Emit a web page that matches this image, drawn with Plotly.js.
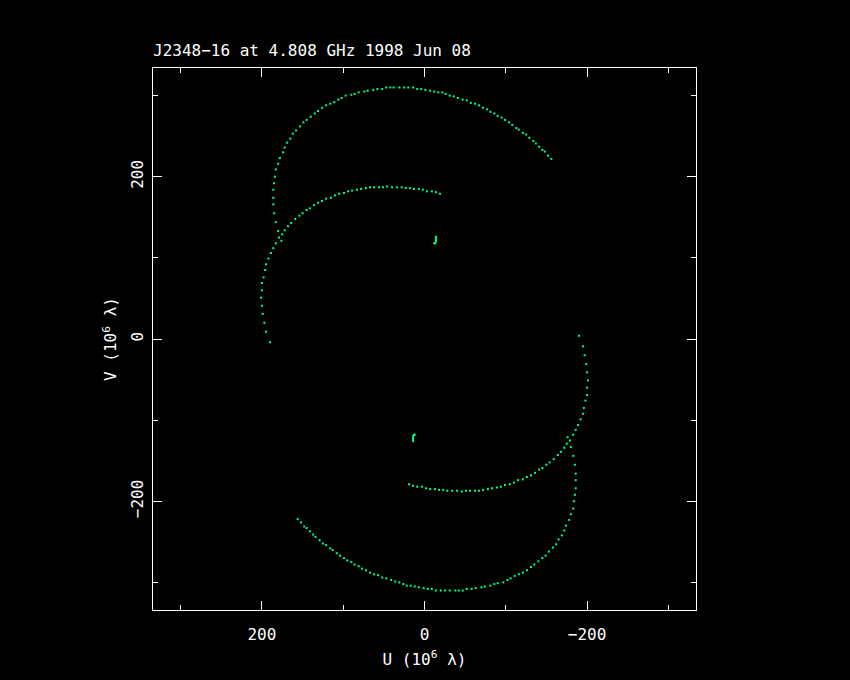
<!DOCTYPE html>
<html>
<head>
<meta charset="utf-8">
<script src="https://cdn.plot.ly/plotly-3.0.1.min.js"></script>
<style>
html,body{margin:0;padding:0;background:#000;}
#chart{width:850px;height:680px;}
</style>
</head>
<body>
<div id="chart"></div>
<script>
// Outer arc, upper half (U, V in 10^6 lambda)
const outerUpperU = [176,179,180,183,185,186,186,186,185,184,183,180,178,174,172,169,165,162,158,153,149,145,140,135,131,126,121,116,111,106,102,97,90,86,81,74,70,63,58,52,47,42,38,31,25,20,14,9,4,-1,-7,-12,-17,-22,-26,-31,-36,-41,-47,-52,-57,-62,-67,-72,-77,-81,-86,-90,-95,-99,-104,-108,-113,-116,-121,-125,-129,-134,-137,-141,-145,-148,-152,-156];
const outerUpperV = [121,125,133,144,155,166,174,184,192,200,209,216,223,230,236,242,247,253,257,262,267,270,274,278,281,285,288,290,292,295,297,300,301,302,304,305,306,307,308,308,310,310,310,310,310,310,310,308,308,307,306,305,304,304,302,300,299,297,295,294,291,290,288,285,283,280,278,275,273,270,267,264,260,258,254,252,248,244,241,237,233,231,226,222];

// Inner arc, upper half
const innerUpperU = [190,195,197,199,200,201,200,200,198,196,195,192,189,186,183,175,172,168,164,159,154,150,145,141,136,131,126,121,115,110,105,99,94,89,83,78,72,67,62,56,51,46,40,34,28,23,18,13,7,2,-3,-9,-14,-19];
const innerUpperV = [-4,9,20,31,41,51,60,69,76,85,92,99,106,112,118,129,134,139,143,148,152,155,159,161,165,168,170,173,174,177,179,180,182,183,184,185,186,187,187,187,187,188,187,187,187,186,186,185,185,184,182,182,181,179];

// Outer arc, lower half
const outerLowerU = [-176,-179,-180,-183,-185,-186,-186,-186,-185,-184,-183,-180,-178,-174,-172,-169,-165,-162,-158,-153,-149,-145,-140,-135,-131,-126,-121,-116,-111,-106,-102,-97,-90,-86,-81,-74,-70,-63,-58,-52,-47,-42,-38,-31,-25,-20,-14,-9,-4,1,7,12,17,22,26,31,36,41,47,52,57,62,67,72,77,81,86,90,95,99,104,108,113,116,121,125,129,134,137,141,145,148,152,156];
const outerLowerV = [-121,-125,-133,-144,-155,-166,-174,-184,-192,-200,-209,-216,-223,-230,-236,-242,-247,-253,-257,-262,-267,-270,-274,-278,-281,-285,-288,-290,-292,-295,-297,-300,-301,-302,-304,-305,-306,-307,-308,-308,-310,-310,-310,-310,-310,-310,-310,-308,-308,-307,-306,-305,-304,-304,-302,-300,-299,-297,-295,-294,-291,-290,-288,-285,-283,-280,-278,-275,-273,-270,-267,-264,-260,-258,-254,-252,-248,-244,-241,-237,-233,-231,-226,-222];

// Inner arc, lower half
const innerLowerU = [-190,-195,-197,-199,-200,-201,-200,-200,-198,-196,-195,-192,-189,-186,-183,-175,-172,-168,-164,-159,-154,-150,-145,-141,-136,-131,-126,-121,-115,-110,-105,-99,-94,-89,-83,-78,-72,-67,-62,-56,-51,-46,-40,-34,-28,-23,-18,-13,-7,-2,3,9,14,19];
const innerLowerV = [4,-9,-20,-31,-41,-51,-60,-69,-76,-85,-92,-99,-106,-112,-118,-129,-134,-139,-143,-148,-152,-155,-159,-161,-165,-168,-170,-173,-174,-177,-179,-180,-182,-183,-184,-185,-186,-187,-187,-187,-187,-188,-187,-187,-187,-186,-186,-185,-185,-184,-182,-182,-181,-179];

// Short-baseline clusters
const clusterUpperU = [-14,-14,-14,-14,-13,-12];
const clusterUpperV = [126,124,122,120,118,118];
const clusterLowerU = [14,14,14,14,13,12];
const clusterLowerV = [-126,-124,-122,-120,-118,-118];

const chartTitle = 'J2348\u221216 at 4.808 GHz 1998 Jun 08';
const xTitle = 'U (10<sup>6</sup> \u03bb)';
const yTitle = 'V (10<sup>6</sup> \u03bb)';

const FONT = 'DejaVu Sans Mono, DejaVu Sans, monospace';
const GREEN = '#00ff80';

function pts(u, v) {
  return {
    x: u, y: v, type: 'scatter', mode: 'markers',
    marker: {symbol: 'square', size: 2, color: GREEN, line: {width: 0}},
    hoverinfo: 'skip', showlegend: false
  };
}

const data = [
  pts(outerUpperU, outerUpperV),
  pts(innerUpperU, innerUpperV),
  pts(outerLowerU, outerLowerV),
  pts(innerLowerU, innerLowerV),
  pts(clusterUpperU, clusterUpperV),
  pts(clusterLowerU, clusterLowerV)
];

const axisCommon = {
  autorange: false,
  showgrid: false,
  zeroline: false,
  showline: true,
  linecolor: '#ffffff',
  linewidth: 1,
  mirror: 'ticks',
  ticks: 'inside',
  ticklen: 9,
  tickwidth: 1,
  tickcolor: '#ffffff',
  tick0: 0,
  dtick: 200,
  minor: {dtick: 100, ticks: 'inside', ticklen: 5, tickwidth: 1, tickcolor: '#ffffff', showgrid: false},
  tickfont: {family: FONT, size: 16, color: '#ffffff'},
  ticklabelstandoff: 10
};

const layout = {
  width: 850,
  height: 680,
  paper_bgcolor: '#000000',
  plot_bgcolor: '#000000',
  margin: {l: 153, r: 154, t: 68, b: 70, pad: 0},
  showlegend: false,
  title: {
    text: chartTitle,
    font: {family: FONT, size: 16, color: '#ffffff'},
    xref: 'paper', x: 0, xanchor: 'left',
    yref: 'container', y: 1 - 50/680, yanchor: 'middle'
  },
  xaxis: Object.assign({}, axisCommon, {
    range: [334, -334],
    title: {text: xTitle, font: {family: FONT, size: 16, color: '#ffffff'}, standoff: 10}
  }),
  yaxis: Object.assign({}, axisCommon, {
    range: [-334, 334],
    tickangle: -90,
    ticklabelstandoff: 3,
    title: {text: yTitle, font: {family: FONT, size: 16, color: '#ffffff'}, standoff: 6}
  })
};

Plotly.newPlot('chart', data, layout, {displayModeBar: false, staticPlot: true});
</script>
</body>
</html>
